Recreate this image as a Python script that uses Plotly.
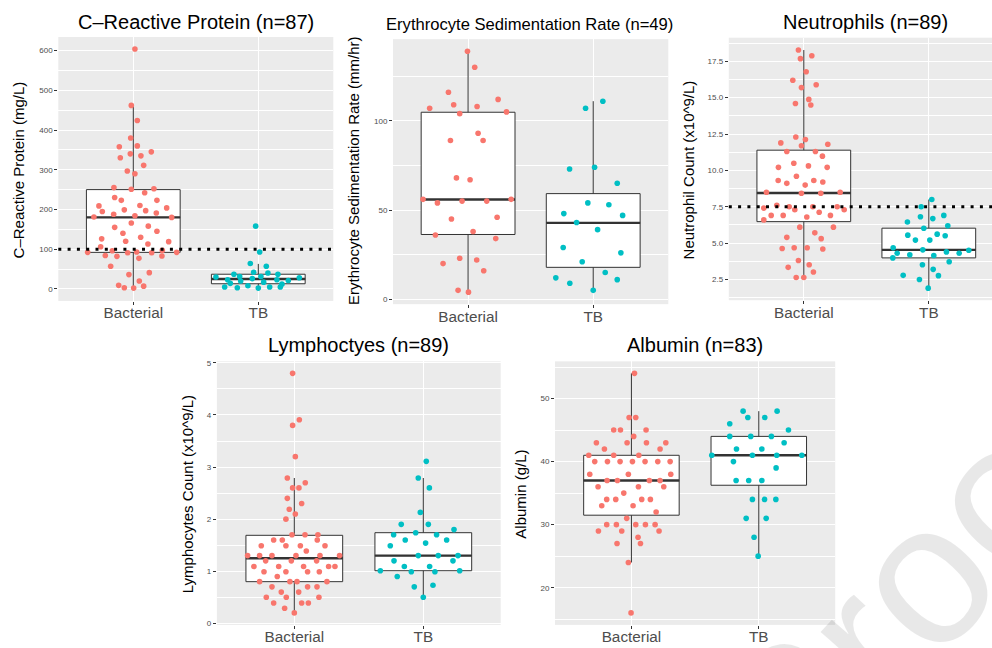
import plotly.graph_objects as go

W, H = 992, 648
FONT = "Liberation Sans, Arial, Helvetica, sans-serif"
categories = ["Bacterial", "TB"]
cat_colors = ["#F8766D", "#00BFC4"]

# ---------------- C-Reactive Protein ----------------
crp_bact = [604, 462, 424, 380, 360, 358, 345, 340, 335, 330, 311, 297, 290, 255, 251, 252, 242, 230, 223, 223,
            209, 210, 199, 197, 195, 188, 204, 191, 184, 181, 180, 166, 158, 155, 145, 140, 130, 126, 120, 119,
            113, 106, 96, 97, 92, 91, 93, 91, 92, 84, 82, 83, 77, 57, 41, 36, 20, 9, 3, 2, 7]
crp_bact_jit = [.013, -.016, .032, -.021, .032, -.112, .144, -.024, .061, -.104, .083, -.048, .013, -.155, -.016,
                .165, .091, -.149, -.096, .189, -.275, .053, -.072, .099, -.248, -.157, .267, .184, .013, -.315,
                .307, -.016, .12, -.149, .189, -.083, .059, -.253, -.061, .283, .117, -.261, -.168, .232, -.365,
                -.045, .027, .147, .347, -.224, -.131, .229, .045, -.181, .128, -.035, .048, -.117, -.072, .003, .083]
crp_tb = [158, 93, 64, 57, 42, 37, 40, 37, 30, 31, 31, 28, 23, 26, 23, 21, 20, 17, 14, 12, 8, 5, 5, 5, 3, 2]
crp_tb_jit = [-.021, .011, -.064, .064, -.037, -.195, .077, .157, -.339, -.149, .021, .328, -.245, -.048, .149,
              .24, -.141, .043, -.224, .189, -.083, -.269, .091, .176, -.168, 0]
# box stats: lower whisker, q1, median, q3, upper whisker
crp_box_bact = [2, 92, 180, 250, 462]
crp_box_tb = [2, 13, 25, 37, 63]
crp_threshold = 100

# ---------------- ESR ----------------
esr_bact = [139, 130, 116, 109, 107, 108, 112, 104, 105, 93, 89, 89, 68, 67, 56, 56, 54, 55, 55, 45,
            46, 38, 36, 34, 23, 22, 20, 16, 5, 4]
esr_bact_jit = [-.005, .053, -.157, -.115, -.307, .072, .24, -.067, .307, .08, -.141, .12, -.093, .016, -.36,
                .344, -.245, -.048, .149, -.133, .232, .04, -.261, .221, -.067, .069, -.2, .125, -.08, .003]
esr_tb = [111, 107, 73, 74, 65, 54, 53, 48, 47, 43, 39, 29, 26, 21, 15, 12, 11, 9, 5]
esr_tb_jit = [.077, -.061, -.189, .011, .192, -.043, .125, -.235, .235, -.133, .035, -.24, .221, -.088, .096,
              -.299, .192, -.187, 0]
esr_box_bact = [4, 36.3, 55.9, 104.8, 139]
esr_box_tb = [5, 17.9, 42.8, 59.2, 111]

# ---------------- Neutrophils ----------------
neu_bact = [18.27, 17.88, 17.68, 16.78, 16.19, 15.89, 15.69, 14.88, 14.6, 14.49, 12.3, 12.12, 11.89, 11.69, 11.8,
            11.3, 11.3, 10.98, 10.49, 10.21, 10.31, 10.21, 9.6, 9.31, 9.11, 9.31, 9.2, 8.99, 8.5, 8.43, 8.43, 8.5,
            7.61, 7.41, 7.5, 7.3, 7.5, 7.5, 7.3, 7.12, 6.91, 6.91, 6.8, 6.91, 6.6, 6.1, 6.1, 5.71, 5.4, 5.31,
            4.63, 4.69, 4.69, 4.6, 3.81, 3.34, 3.52, 3.02, 2.64, 2.64]
neu_bact_jit = [-.043, .064, -.027, .019, -.088, .099, -.019, .04, -.067, .056, -.064, .013, -.184, -.019, .192,
                -.136, .093, .149, -.08, -.203, .037, .187, -.059, -.205, -.136, .08, .152, .011, -.299, -.019,
                .136, .291, -.216, -.32, -.117, -.072, .072, .267, .323, .123, -.261, -.165, .024, .213, -.32,
                -.032, .237, .088, -.136, .139, -.173, -.077, .027, .152, -.043, -.125, .043, .077, -.061, 0]
neu_tb = [8.0, 7.5, 6.82, 6.91, 6.69, 6.46, 6.19, 6.03, 5.55, 5.62, 5.51, 5.21, 5.21, 4.69, 4.54, 4.4, 4.51,
          4.31, 4.2, 4.15, 4.31, 3.99, 3.72, 3.52, 3.2, 2.79, 2.77, 2.5, 1.91]
neu_tb_jit = [.024, -.061, -.067, .12, .032, -.171, .152, -.04, -.168, .067, .131, -.107, .008, -.285, -.048,
              .141, .32, -.253, -.152, .04, .243, -.288, .163, -.051, .035, -.205, .077, -.075, -.005]
neu_box_bact = [2.64, 6.48, 8.45, 11.39, 18.27]
neu_box_tb = [1.91, 3.99, 4.54, 6.03, 8.0]
neu_threshold = 7.5

# ---------------- Lymphocytes ----------------
lym_bact = [4.8, 3.91, 3.8, 3.2, 2.79, 2.7, 2.6, 2.6, 2.4, 2.3, 2.19, 2.1, 2.0, 1.7, 1.7, 1.7, 1.6, 1.6, 1.6,
            1.49, 1.49, 1.49, 1.49, 1.39, 1.3, 1.3, 1.3, 1.3, 1.3, 1.3, 1.2, 1.2, 1.2, 1.09, 1.09, 1.09, 1.09,
            1.09, 0.99, 0.99, 0.99, 0.99, 0.9, 0.8, 0.8, 0.8, 0.8, 0.7, 0.7, 0.7, 0.6, 0.6, 0.5, 0.5, 0.5,
            0.39, 0.39, 0.39, 0.29, 0.2]
lym_bact_jit = [-.013, .039, -.013, .008, -.054, .085, -.013, .036, -.054, .057, -.039, .008, -.065, -.018, .083,
                .183, -.16, -.093, .178, -.256, -.065, .047, .238, .093, -.362, -.269, -.173, .013, .199, .351,
                -.222, -.023, .173, -.313, -.121, .072, .266, .315, -.235, -.065, .103, .194, -.132, -.269, -.034,
                .021, .253, -.173, .103, .176, -.101, .034, -.217, -.062, .191, -.16, .057, .109, -.075, 0]
lym_tb = [3.11, 2.79, 2.6, 2.13, 1.9, 1.9, 1.8, 1.7, 1.74, 1.7, 1.6, 1.6, 1.49, 1.54, 1.3, 1.3, 1.3, 1.2, 1.2,
          1.09, 1.09, 1.01, 0.99, 0.99, 1.01, 0.9, 0.73, 0.7, 0.5]
lym_tb_jit = [.023, -.039, .047, -.023, -.171, .039, .238, -.23, -.059, .103, -.14, .181, -.256, .018, -.039,
              .116, .269, -.227, .23, -.147, .049, -.333, -.093, .09, .282, -.202, .075, -.07, 0]
lym_box_bact = [0.2, 0.8, 1.25, 1.69, 2.79]
lym_box_tb = [0.5, 1.01, 1.3, 1.74, 2.79]

# ---------------- Albumin ----------------
alb_bact = [54, 47, 47, 45, 45, 45, 44, 43, 43, 43, 43, 42, 42, 41, 41, 41, 40, 40, 40, 40, 40, 40, 40,
            38, 38, 38, 37, 37, 37, 37, 36, 36, 36, 35, 34, 34, 34, 34, 33, 33, 32, 31, 30, 30, 30, 30, 30,
            29, 29, 29, 28, 27, 27, 24, 16]
alb_bact_jit = [.024, -.018, .034, -.139, -.086, .115, .018, -.275, -.034, .118, .27, -.212, .225, -.335, -.139,
                .058, -.288, -.188, -.089, .008, .107, .207, .304, -.327, -.024, .309, -.191, -.11, .141, .225,
                -.262, .055, .254, -.06, -.194, -.123, .081, .149, -.233, .013, .194, -.037, -.194, -.118, .034,
                .11, .186, -.259, -.076, .217, .052, -.113, .071, -.024, -.003]
alb_tb = [48, 48, 47, 47, 46, 45, 44, 44, 44, 43, 42, 42, 41, 41, 41, 41, 40, 39, 37, 37, 37, 34, 34, 34,
          31, 31, 28, 25]
alb_tb_jit = [-.123, .144, -.086, .047, -.228, .233, -.228, -.063, .099, .199, -.175, .024, -.369, -.05, .141,
              .338, -.199, .136, -.178, -.079, .024, -.05, .045, .134, -.099, .058, -.037, -.005]
alb_box_bact = [24, 31.5, 37, 41, 54]
alb_box_tb = [25, 36.25, 41, 44, 48]

watermark_text = "Proof"

# ---------------- panel definitions ----------------
panels = [
    dict(title="C\u2013Reactive Protein (n=87)", tsize=20, ytitle="C\u2013Reactive Protein (mg/L)",
         groups=[(crp_bact, crp_bact_jit, crp_box_bact), (crp_tb, crp_tb_jit, crp_box_tb)],
         px=(58.3, 333.3), py=(34.3, 300.7), xmax=2.6, yr=(-30.2, 634.2), dtick=100, fmt="d",
         title_xy=(195.8, 19), ytitle_xy=(18.5, 168.5), thr=crp_threshold),
    dict(title="Erythrocyte Sedimentation Rate (n=49)", tsize=16.6,
         ytitle="Erythrocyte Sedimentation Rate (mm/hr)",
         groups=[(esr_bact, esr_bact_jit, esr_box_bact), (esr_tb, esr_tb_jit, esr_box_tb)],
         px=(393.0, 668.3), py=(36.5, 304.0), xmax=2.6, yr=(-2.75, 145.75), dtick=50, fmt="d",
         title_xy=(529.5, 22), ytitle_xy=(353.5, 170), thr=None),
    dict(title="Neutrophils (n=89)", tsize=20, ytitle="Neutrophil Count (x10^9/L)",
         groups=[(neu_bact, neu_bact_jit, neu_box_bact), (neu_tb, neu_tb_jit, neu_box_tb)],
         px=(728.8, 992.0), py=(35.0, 300.0), xmax=0.4 + (992.0 - 728.8) / 125.0, yr=(1.08, 19.12),
         dtick=2.5, fmt=".1f", title_xy=(865.5, 19), ytitle_xy=(688.5, 168.5), thr=neu_threshold),
    dict(title="Lymphoctyes (n=89)", tsize=20, ytitle="Lymphocytes Count (x10^9/L)",
         groups=[(lym_bact, lym_bact_jit, lym_box_bact), (lym_tb, lym_tb_jit, lym_box_tb)],
         px=(216.9, 500.7), py=(361.7, 627.7), xmax=2.6, yr=(-0.03, 5.03), dtick=1, fmt="d",
         title_xy=(358.8, 345), ytitle_xy=(187, 495.8), thr=None),
    dict(title="Albumin (n=83)", tsize=20, ytitle="Albumin (g/L)",
         groups=[(alb_bact, alb_bact_jit, alb_box_bact), (alb_tb, alb_tb_jit, alb_box_tb)],
         px=(555.0, 835.2), py=(361.7, 627.7), xmax=2.6, yr=(14.1, 55.9), dtick=10, fmt="d",
         title_xy=(695, 345), ytitle_xy=(520.5, 495.8), thr=None),
]

BOX_W = 0.75
LINE_C = "#333333"
TICK_C = "#4D4D4D"

fig = go.Figure()
layout = dict(width=W, height=H, margin=dict(l=0, r=0, t=0, b=0), paper_bgcolor="white",
              plot_bgcolor="#EBEBEB", showlegend=False, font=dict(family=FONT, color="black"),
              boxmode="overlay")
annotations = []
shapes = []

for i, p in enumerate(panels, start=1):
    sfx = "" if i == 1 else str(i)
    xa, ya = "x" + sfx, "y" + sfx
    for k, (vals, jit, box) in enumerate(p["groups"], start=1):
        lo, q1, med, q3, hi = box
        fig.add_trace(go.Box(x=[k], q1=[q1], median=[med], q3=[q3], lowerfence=[lo], upperfence=[hi],
                             width=BOX_W, fillcolor="white", line=dict(color=LINE_C, width=1),
                             whiskerwidth=0, boxpoints=False, hoverinfo="skip",
                             xaxis=xa, yaxis=ya))
        fig.add_trace(go.Scatter(x=[k - BOX_W / 2, k + BOX_W / 2], y=[med, med], mode="lines",
                                 line=dict(color=LINE_C, width=2.4), hoverinfo="skip",
                                 xaxis=xa, yaxis=ya))
        fig.add_trace(go.Scatter(x=[k + j for j in jit], y=vals, mode="markers",
                                 marker=dict(color=cat_colors[k - 1], size=5.6, line=dict(width=0)),
                                 xaxis=xa, yaxis=ya))
    layout["xaxis" + sfx] = dict(
        domain=[p["px"][0] / W, p["px"][1] / W], range=[0.4, p["xmax"]], anchor=ya,
        tickmode="array", tickvals=[1, 2], ticktext=categories, showgrid=True, gridcolor="white",
        gridwidth=1.1, zeroline=False, showline=False, ticks="outside", ticklen=3, tickwidth=1,
        tickcolor=LINE_C, tickfont=dict(size=15.3, color=TICK_C, family=FONT), ticklabelstandoff=-5,
        fixedrange=True)
    layout["yaxis" + sfx] = dict(
        domain=[1 - p["py"][1] / H, 1 - p["py"][0] / H], range=list(p["yr"]), anchor=xa,
        tickmode="linear", tick0=0, dtick=p["dtick"], tickformat=p["fmt"], showgrid=True,
        gridcolor="white", gridwidth=1.1, zeroline=False, showline=False, ticks="outside",
        ticklen=3, tickwidth=1, tickcolor=LINE_C, tickfont=dict(size=8, color=TICK_C, family=FONT),
        minor=dict(tick0=0, dtick=p["dtick"] / 2, showgrid=True, gridcolor="white", gridwidth=0.5,
                   ticks=""),
        fixedrange=True)
    annotations.append(dict(text=p["title"], xref="paper", yref="paper",
                            x=p["title_xy"][0] / W, y=1 - p["title_xy"][1] / H,
                            xanchor="center", yanchor="middle", showarrow=False,
                            font=dict(size=p["tsize"], color="black", family=FONT)))
    annotations.append(dict(text=p["ytitle"], xref="paper", yref="paper",
                            x=p["ytitle_xy"][0] / W, y=1 - p["ytitle_xy"][1] / H, textangle=-90,
                            xanchor="center", yanchor="middle", showarrow=False,
                            font=dict(size=15, color="black", family=FONT)))
    if p["thr"] is not None:
        shapes.append(dict(type="line", xref=xa + " domain", yref=ya, x0=0, x1=1,
                           y0=p["thr"], y1=p["thr"],
                           line=dict(color="black", width=3, dash="3px,6.3px")))

# faint semi-transparent watermark (mostly outside the page, as in the original)
annotations.append(dict(text=watermark_text, xref="paper", yref="paper", x=909.5 / W, y=1 - 592 / H,
                        xanchor="center", yanchor="middle", textangle=-47, showarrow=False,
                        font=dict(size=200, color="rgba(0,0,0,0.09)", family=FONT)))

layout["annotations"] = annotations
layout["shapes"] = shapes
fig.update_layout(**layout)
fig.write_html("out.html")
